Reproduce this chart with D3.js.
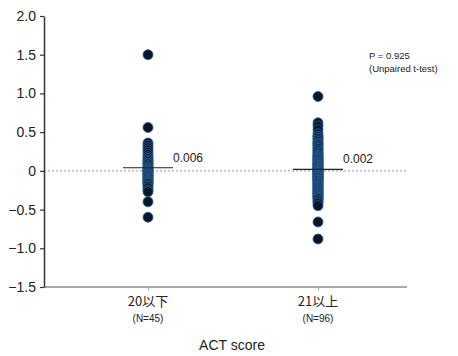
<!DOCTYPE html>
<html>
<head>
<meta charset="utf-8">
<script src="https://cdn.jsdelivr.net/npm/d3@7"></script>
<style>
  body { margin: 0; background: #fff; }
  text { font-family: "Liberation Sans", Arial, sans-serif; fill: #222; }
</style>
</head>
<body>
<div class="chart"></div>
<script>
var svgWidth = 458;
var svgHeight = 356;

var categories = ["20以下", "21以上"];
var counts = ["(N=45)", "(N=96)"];
var yTicks = [-1.5, -1.0, -0.5, 0, 0.5, 1.0, 1.5, 2.0];
var meanLines = [0.04, 0.02];
var meanLabels = ["0.006", "0.002"];

var group1 = [1.50, 0.56, 0.36, 0.33, 0.30, 0.27, 0.24, 0.21, 0.18, 0.16,
  0.14, 0.12, 0.10, 0.09, 0.07, 0.05, 0.04, 0.03, 0.02, 0.01,
  0.00, 0.00, -0.01, -0.02, -0.03, -0.04, -0.05, -0.06, -0.07, -0.08,
  -0.09, -0.10, -0.11, -0.12, -0.13, -0.14, -0.15, -0.16, -0.18, -0.20,
  -0.22, -0.25, -0.27, -0.40, -0.60];

var group2 = [0.96, 0.62, 0.58, 0.53, 0.48, 0.45, 0.44, 0.42, 0.40, 0.38,
  0.36, 0.35, 0.34, 0.32, 0.30, 0.29, 0.27, 0.26, 0.24, 0.23,
  0.21, 0.20, 0.19, 0.18, 0.17, 0.16, 0.15, 0.14, 0.13, 0.12,
  0.11, 0.10, 0.09, 0.09, 0.08, 0.07, 0.06, 0.05, 0.05, 0.04,
  0.03, 0.02, 0.02, 0.01, 0.00, 0.00, 0.00, -0.01, -0.01, -0.02,
  -0.02, -0.03, -0.03, -0.04, -0.05, -0.05, -0.06, -0.07, -0.07, -0.08,
  -0.09, -0.09, -0.10, -0.11, -0.12, -0.12, -0.13, -0.14, -0.15, -0.16,
  -0.17, -0.18, -0.19, -0.20, -0.21, -0.22, -0.23, -0.24, -0.25, -0.26,
  -0.27, -0.28, -0.29, -0.30, -0.31, -0.32, -0.33, -0.34, -0.35, -0.36,
  -0.38, -0.40, -0.42, -0.45, -0.66, -0.88];

var groups = [group1, group2];

var svg = d3.select(".chart")
  .append("svg")
  .attr("width", svgWidth)
  .attr("height", svgHeight);

var yScale = d3.scaleLinear()
  .domain([-1.5, 2.0])
  .range([287, 16]);

var xScale = d3.scalePoint()
  .domain(categories)
  .range([148, 318]);

// zero reference line
svg.append("line")
  .attr("x1", 44).attr("x2", 406)
  .attr("y1", yScale(0)).attr("y2", yScale(0))
  .attr("stroke", "#aaa")
  .attr("stroke-width", 1.2)
  .attr("stroke-dasharray", "2,2");

// x axis (gray baseline)
var xAxis = svg.append("g")
  .attr("transform", "translate(0," + yScale(-1.5) + ")")
  .call(d3.axisBottom(xScale).tickSize(3).tickFormat(""));
xAxis.select(".domain").remove();
xAxis.selectAll("line").attr("stroke", "#999");
xAxis.append("line")
  .attr("x1", 44).attr("x2", 407)
  .attr("stroke", "#aaa")
  .attr("stroke-width", 2);

// y axis
var yAxis = svg.append("g")
  .attr("transform", "translate(44,0)")
  .call(d3.axisLeft(yScale)
    .tickValues(yTicks)
    .tickSize(4)
    .tickSizeOuter(0)
    .tickPadding(4)
    .tickFormat(function(d) { return d === 0 ? "0" : d3.format(".1f")(d); }));
yAxis.select(".domain").attr("stroke", "#333").attr("stroke-width", 1.5);
yAxis.selectAll(".tick line").attr("stroke", "#333").attr("stroke-width", 1.2);
yAxis.selectAll(".tick text")
  .attr("font-size", 14)
  .attr("fill", "#222")
  .style("font-family", "Liberation Sans, Arial, sans-serif");

// dots
groups.forEach(function(vals, i) {
  svg.append("g")
    .selectAll("circle")
    .data(vals)
    .enter()
    .append("circle")
    .attr("cx", xScale(categories[i]))
    .attr("cy", function(d) { return yScale(d); })
    .attr("r", 5)
    .attr("fill", "#0a1628")
    .attr("stroke", "#24609a")
    .attr("stroke-width", 0.8);
});

// mean lines and labels
categories.forEach(function(c, i) {
  svg.append("line")
    .attr("x1", xScale(c) - 25).attr("x2", xScale(c) + 25)
    .attr("y1", yScale(meanLines[i])).attr("y2", yScale(meanLines[i]))
    .attr("stroke", "#222")
    .attr("stroke-width", 1.2);
  svg.append("text")
    .attr("x", xScale(c) + 25)
    .attr("y", yScale(meanLines[i]) - 6)
    .attr("font-size", 12)
    .attr("fill", "#333")
    .text(meanLabels[i]);
});

// category labels
svg.selectAll(".cat")
  .data(categories)
  .enter()
  .append("text")
  .attr("x", function(d) { return xScale(d); })
  .attr("y", 306)
  .attr("text-anchor", "middle")
  .attr("font-size", 13)
  .style("font-family", "'Noto Sans CJK JP', 'Liberation Sans', sans-serif")
  .text(function(d) { return d; });

svg.selectAll(".cnt")
  .data(counts)
  .enter()
  .append("text")
  .attr("x", function(d, i) { return xScale(categories[i]); })
  .attr("y", 322)
  .attr("text-anchor", "middle")
  .attr("font-size", 10)
  .attr("fill", "#333")
  .text(function(d) { return d; });

svg.append("text")
  .attr("x", 232)
  .attr("y", 350)
  .attr("text-anchor", "middle")
  .attr("font-size", 14)
  .text("ACT score");

svg.append("text")
  .attr("x", 369)
  .attr("y", 59)
  .attr("font-size", 9.5)
  .text("P = 0.925");

svg.append("text")
  .attr("x", 369)
  .attr("y", 72)
  .attr("font-size", 9.5)
  .text("(Unpaired t-test)");
</script>
</body>
</html>
